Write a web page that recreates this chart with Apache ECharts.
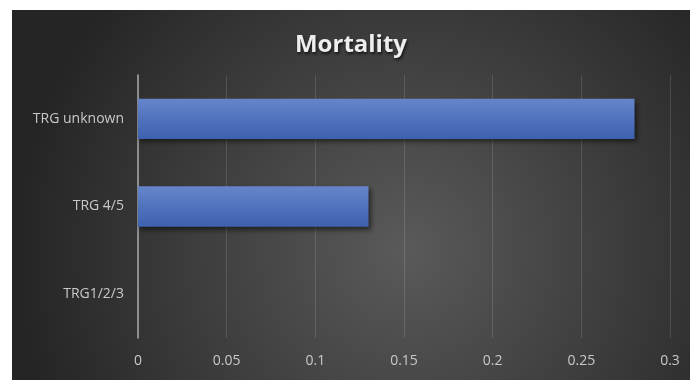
<!DOCTYPE html>
<html>
<head>
<meta charset="utf-8">
<script src="https://cdn.jsdelivr.net/npm/echarts@6/dist/echarts.min.js"></script>
<style>
html,body{margin:0;padding:0;background:#fff;}
#c{position:absolute;left:12px;top:10px;width:678px;height:370px;}
</style>
</head>
<body>
<div id="c"></div>
<script>
var titleText = 'Mortality';
var categories = ['TRG1/2/3', 'TRG 4/5', 'TRG unknown'];
var mortality = [0, 0.13, 0.28];
var axisMin = 0, axisMax = 0.3, axisStep = 0.05;

var chart = echarts.init(document.getElementById('c'), null, {renderer: 'canvas'});
chart.setOption({
  animation: false,
  backgroundColor: {
    type: 'radial', x: 0.58, y: 0.65, r: 1.05,
    colorStops: [{offset: 0, color: '#5a5a5a'}, {offset: 1, color: '#252525'}]
  },
  title: {
    text: titleText, left: 'center', top: 18,
    textStyle: {
      color: '#eeeeee', fontSize: 24, fontWeight: 'bold', fontFamily: 'Open Sans',
      textShadowColor: 'rgba(0,0,0,0.7)', textShadowBlur: 3, textShadowOffsetX: 1, textShadowOffsetY: 2
    }
  },
  grid: {left: 126, right: 20, top: 65, bottom: 42, containLabel: false},
  xAxis: {
    type: 'value', min: axisMin, max: axisMax, interval: axisStep,
    axisLine: {show: false}, axisTick: {show: false},
    splitLine: {lineStyle: {color: 'rgba(255,255,255,0.13)', width: 1}},
    axisLabel: {color: '#c8c8c8', fontSize: 14, fontFamily: 'Open Sans', margin: 16}
  },
  yAxis: {
    type: 'category', data: categories,
    axisLine: {lineStyle: {color: '#a8a8a8', width: 1.5}},
    axisTick: {show: false},
    axisLabel: {color: '#c8c8c8', fontSize: 14, fontFamily: 'Open Sans', margin: 14}
  },
  series: [{
    type: 'bar', data: mortality, barCategoryGap: '54%',
    itemStyle: {
      color: {type: 'linear', x: 0, y: 0, x2: 0, y2: 1,
        colorStops: [{offset: 0, color: '#6585cb'}, {offset: 1, color: '#3d61b0'}]},
      shadowColor: 'rgba(0,0,0,0.55)', shadowBlur: 5, shadowOffsetX: 2, shadowOffsetY: 3
    }
  }]
});
</script>
</body>
</html>
